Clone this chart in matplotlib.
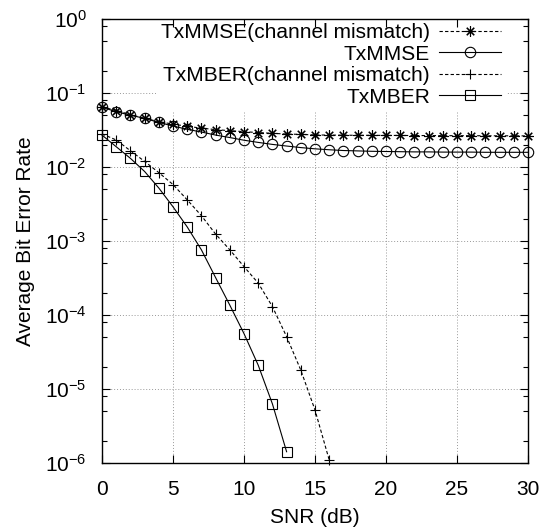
import numpy as np
import matplotlib
matplotlib.use("Agg")
import matplotlib.pyplot as plt
from matplotlib.ticker import LogLocator, NullFormatter

plt.rcParams['font.family'] = ['Liberation Sans', 'DejaVu Sans']
plt.rcParams['mathtext.fontset'] = 'custom'
plt.rcParams['mathtext.rm'] = 'Liberation Sans'
plt.rcParams['mathtext.it'] = 'Liberation Sans:italic'
plt.rcParams['mathtext.default'] = 'regular'

# SNR (dB) and bit error rates
snr_mmse = list(range(0, 31))
ber_mmse_mismatch = [0.065, 0.058, 0.051, 0.0455, 0.041, 0.038, 0.0355, 0.0335, 0.032, 0.031,
                     0.030, 0.0292, 0.0285, 0.0279, 0.0276, 0.0271, 0.0270, 0.0269, 0.0268, 0.0268,
                     0.0267, 0.0267, 0.0266, 0.0266, 0.0265, 0.0265, 0.0265, 0.0264, 0.0264, 0.0264,
                     0.0263]
ber_mmse = [0.064, 0.056, 0.050, 0.0455, 0.040, 0.0358, 0.0323, 0.0297, 0.027, 0.025,
            0.023, 0.0215, 0.0202, 0.0192, 0.0183, 0.0176, 0.0171, 0.0167, 0.0165, 0.0163,
            0.0162, 0.0161, 0.0160, 0.0160, 0.0159, 0.0159, 0.0159, 0.0158, 0.0158, 0.0158,
            0.0158]

snr_mber_mismatch = list(range(0, 17))
ber_mber_mismatch = [0.028, 0.0232, 0.0166, 0.0119, 0.0084, 0.0058, 0.0036, 0.0022, 0.00124,
                     7.6e-4, 4.5e-4, 2.7e-4, 1.3e-4, 5.1e-5, 1.8e-5, 5.2e-6, 1.1e-6]

snr_mber = list(range(0, 14))
ber_mber = [0.027, 0.0188, 0.0131, 0.0087, 0.0052, 0.0029, 0.00155, 0.00076, 0.00032,
            1.36e-4, 5.6e-5, 2.1e-5, 6.3e-6, 1.42e-6]

x_ticks = [0, 5, 10, 15, 20, 25, 30]
y_ticks = [1e-6, 1e-5, 1e-4, 1e-3, 1e-2, 1e-1, 1e0]

rect = [102 / 542, 65 / 528, 426 / 542, 444 / 528]
fig = plt.figure(figsize=(5.42, 5.28), dpi=100)
ax = fig.add_axes(rect)

dash = (0, (3, 2))
common = dict(color='black', lw=0.8, markersize=7.5, markeredgewidth=0.8,
              markerfacecolor='none', clip_on=False)
ax.plot(snr_mmse, ber_mmse_mismatch, linestyle=dash, marker=(8, 2, 0),
        label='TxMMSE(channel mismatch)', **common)
ax.plot(snr_mmse, ber_mmse, linestyle='-', marker='o',
        label='TxMMSE', **common)
ax.plot(snr_mber_mismatch, ber_mber_mismatch, linestyle=dash, marker='+',
        label='TxMBER(channel mismatch)', **common)
ax.plot(snr_mber, ber_mber, linestyle='-', marker='s',
        label='TxMBER', **common)

ax.set_yscale('log')
ax.set_xlim(0, 30)
ax.set_ylim(1e-6, 1)
ax.set_xticks(x_ticks)
ax.set_yticks(y_ticks)
ax.yaxis.set_minor_locator(LogLocator(base=10, subs=(2.0, 5.0, 8.0), numticks=10))
ax.yaxis.set_minor_formatter(NullFormatter())

# main axes: grid + tick labels only, ticks/frame come from the overlay
ax.tick_params(which='both', length=0, labelsize=15)
ax.tick_params(axis='x', pad=12)
ax.tick_params(axis='y', pad=11)
for s in ax.spines.values():
    s.set_visible(False)
ax.grid(True, which='major', color='#999999', linestyle=(0, (1, 2)), linewidth=0.7)
ax.set_axisbelow(True)

ax.set_xlabel('SNR (dB)', fontsize=15, labelpad=7)
ax.set_ylabel('Average Bit Error Rate', fontsize=15, labelpad=7)

leg = ax.legend(loc='upper right', bbox_to_anchor=(0.9474, 1.0), markerfirst=False,
                fontsize=15, frameon=True, fancybox=False, framealpha=1,
                facecolor='white', edgecolor='none', borderpad=0.2, borderaxespad=0,
                labelspacing=0.12, handlelength=3.0, handletextpad=0.43)

# overlay axes drawing frame and inward ticks above the legend box
ax_top = fig.add_axes(rect, sharex=ax, sharey=ax, facecolor='none')
ax_top.tick_params(which='both', direction='in', top=True, right=True, width=0.8,
                   labelbottom=False, labelleft=False)
ax_top.tick_params(which='major', length=6)
ax_top.tick_params(which='minor', length=3.5)
for s in ax_top.spines.values():
    s.set_linewidth(1.0)

fig.savefig('out.png', dpi=100)
